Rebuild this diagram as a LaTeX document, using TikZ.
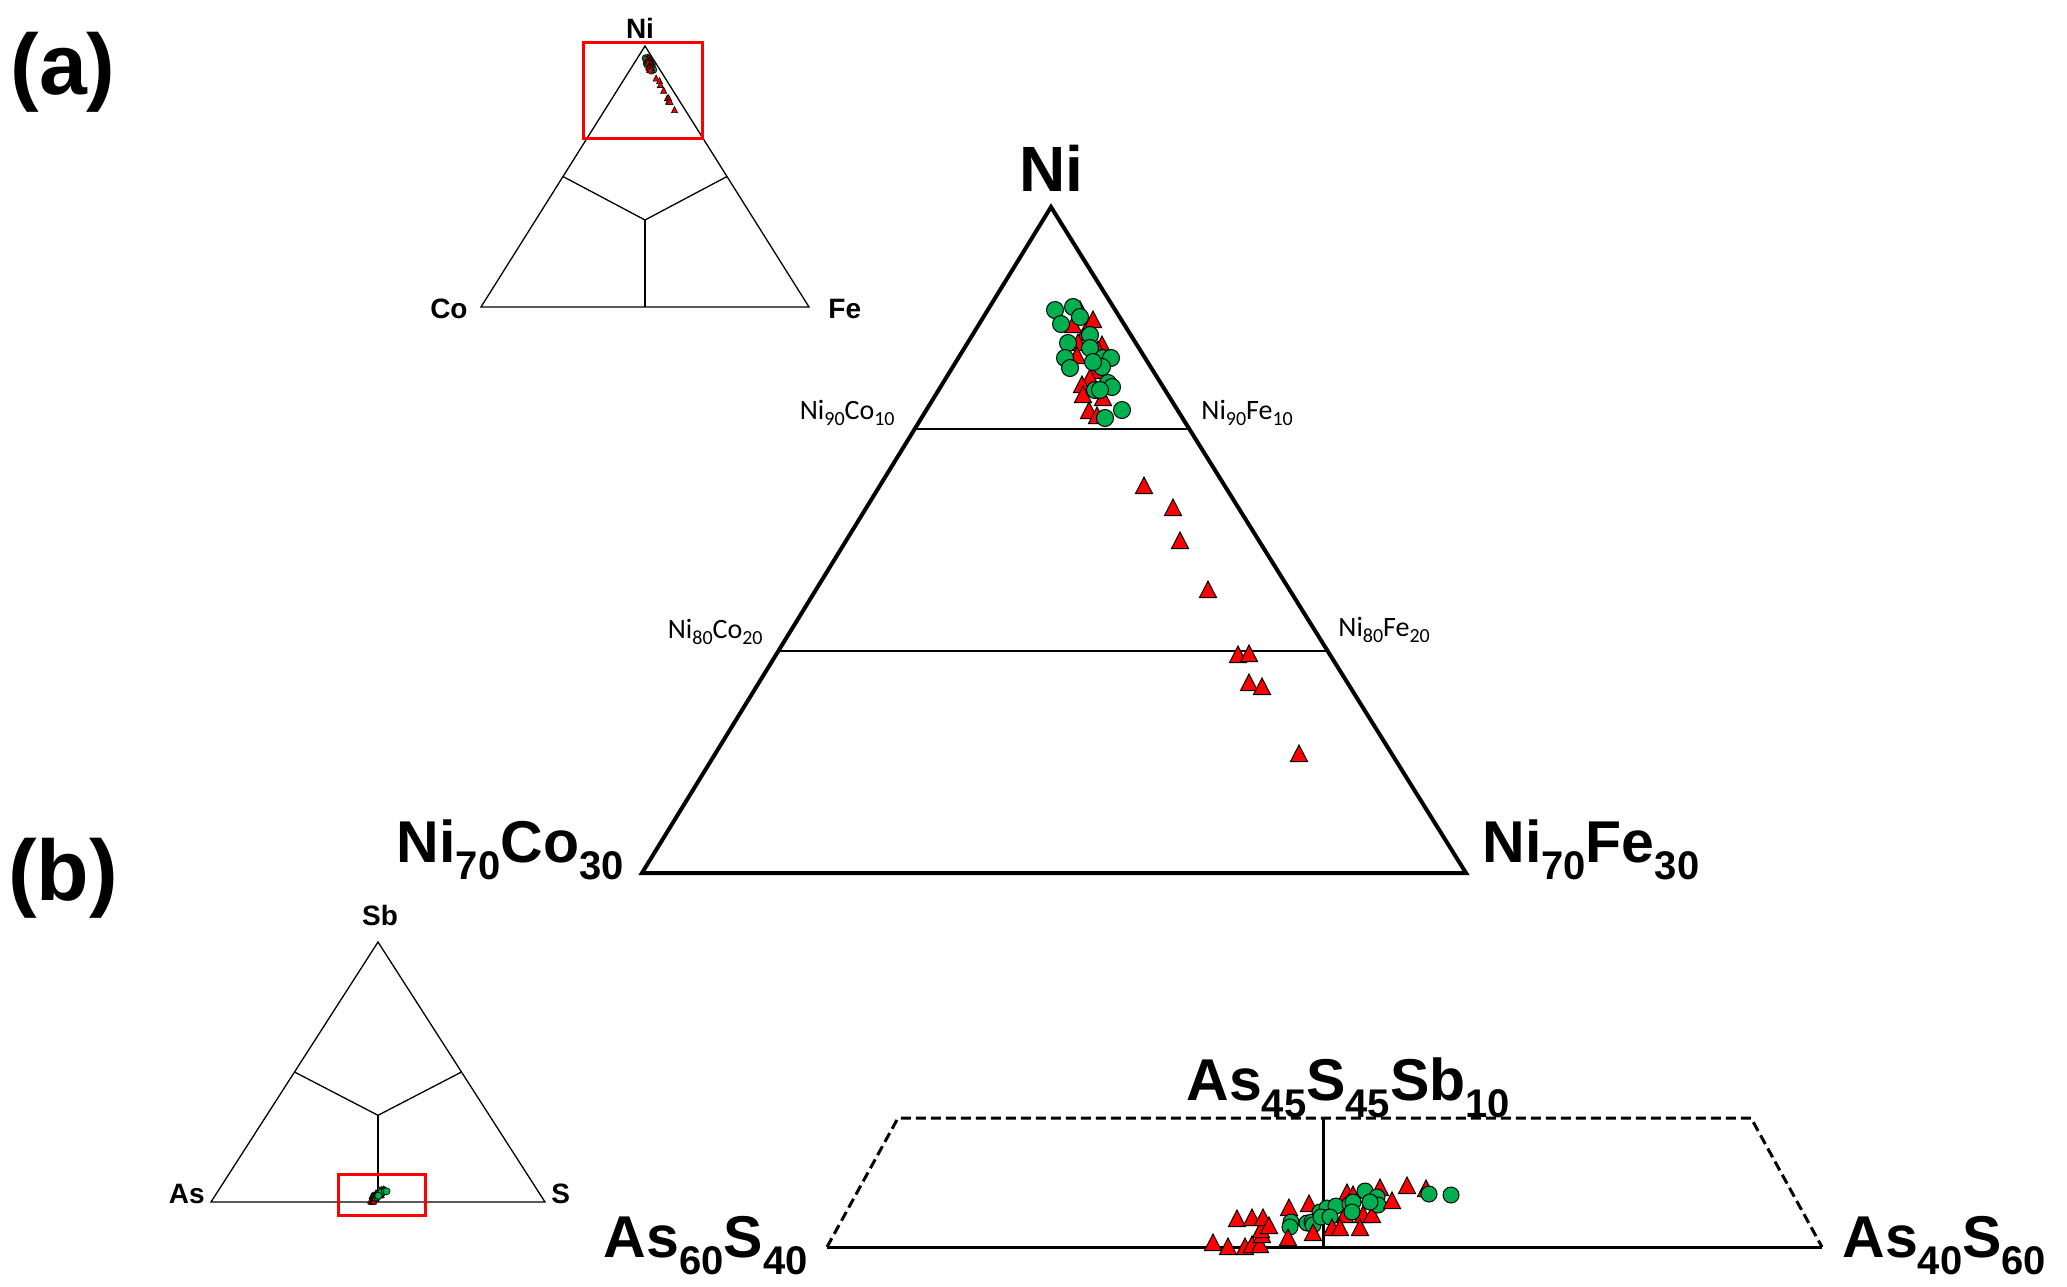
\documentclass[tikz,border=0pt]{standalone}
\usepackage{fontspec}
\setmainfont{Liberation Sans}
\newfontfamily\calib{Carlito}
\usetikzlibrary{calc}
\definecolor{mkgreen}{RGB}{0,176,80}
\definecolor{mkred}{RGB}{255,0,0}
\newcommand{\bsub}[1]{\raisebox{-8.5pt}{\fontsize{20}{20}\selectfont\bfseries #1}}
\newcommand{\csub}[1]{\raisebox{-3.3pt}{\fontsize{10}{10}\selectfont #1}}
\def\atri{1080/312,1093/322,1073/327,1085/335,1078/345,1102/347,1098/352,1077/358,1095/373,1090/380,1082/387,1083/397,1103/400,1089/413,1097/418,1144/488,1173/510,1180/543,1208/592,1238/657,1249/656,1249/685,1262/689,1299/756}
\def\acirc{1055/310,1073/307,1080/317,1061/324,1068/343,1090/335,1090/348,1065/358,1070/368,1103/358,1111/358,1102/367,1093/362,1108/383,1112/387,1095/390,1100/390,1122/410,1105/418}
\def\btriback{1213/1245,1228/1249,1245/1249,1252/1247,1260/1247,1262/1237,1261/1232,1237/1221,1252/1220,1263/1220,1269/1228,1289/1210,1309/1206,1347/1195,1353/1197,1345/1217,1363/1217,1372/1217,1380/1190,1407/1188,1426/1191}
\def\bcirc{1291/1222,1290/1227,1307/1223,1312/1222,1313/1225,1320/1212,1327/1208,1336/1206,1350/1204,1353/1202,1352/1212,1365/1191,1377/1197,1378/1205,1370/1202,1321/1217,1330/1217,1429/1194,1451/1195}
\def\btrifront{1288/1240,1313/1235,1332/1230,1340/1230,1360/1230,1392/1203}
\begin{document}
\begin{tikzpicture}[x=0.5pt,y=-0.5pt,
  bigl/.style={font=\fontsize{32}{32}\selectfont\bfseries, inner sep=0},
  cornl/.style={font=\fontsize{29.5}{30}\selectfont\bfseries, inner sep=0},
  smalll/.style={font=\fontsize{14}{14}\selectfont\bfseries, inner sep=0},
  ratiol/.style={font=\calib\fontsize{14}{14}\selectfont, inner sep=0},
  panell/.style={font=\fontsize{43}{43}\selectfont\bfseries, inner sep=0},
  thinframe/.style={line width=0.65pt, draw=black},
  redmk/.style={fill=mkred, draw=black, line width=0.5pt},
  greenmk/.style={fill=mkgreen, draw=black, line width=0.5pt},
  redsm/.style={fill=mkred, draw=black, line width=0.3pt},
  greensm/.style={fill=mkgreen, draw=black, line width=0.3pt},
  zoombox/.style={draw=mkred, line width=1.5pt},
  dashframe/.style={line width=1.5pt, dash pattern=on 5pt off 2.5pt}]
\useasboundingbox[fill=white] (0,0) rectangle (2067,1286);

% panel labels
\node[panell] (pa) at (63,72) {(a)};
\node[panell] (pb) at (63,878) {(b)};

% ---------- small triangle (a)
\coordinate (sN) at (645,46);
\coordinate (sC) at (481,307);
\coordinate (sF) at (809,307);
\coordinate (sO) at (645,220);
\draw[thinframe] (sN) -- (sC) -- (sF) -- cycle;
\draw[thinframe] ($(sN)!0.5!(sC)$) -- (sO) -- ($(sN)!0.5!(sF)$);
\draw[thinframe] (sO) -- ($(sC)!0.5!(sF)$);
\node[smalll, anchor=base] (lsN) at (640,38) {Ni};
\node[smalll, anchor=base east] (lsC) at (468,318) {Co};
\node[smalll, anchor=base west] (lsF) at (828,318) {Fe};

% ---------- main triangle (a)
\coordinate (aN) at (1051,207);
\coordinate (aC) at (642,873);
\coordinate (aF) at (1466,873);
\draw[line width=1pt] ($(aN)!1/3!(aC)$) -- ($(aN)!1/3!(aF)$);
\draw[line width=1pt] ($(aN)!2/3!(aC)$) -- ($(aN)!2/3!(aF)$);
\draw[line width=2pt, line join=miter] (aN) -- (aC) -- (aF) -- cycle;
\node[bigl, anchor=base] (laN) at (1051,191) {Ni};
\node[cornl, anchor=base east] (laC) at (624,862) {Ni\bsub{70}Co\bsub{30}};
\node[cornl, anchor=base west] (laF) at (1482,862) {Ni\bsub{70}Fe\bsub{30}};
\node[ratiol, anchor=base east] (r1) at (895,419) {Ni\csub{90}Co\csub{10}};
\node[ratiol, anchor=base west] (r2) at (1201,419) {Ni\csub{90}Fe\csub{10}};
\node[ratiol, anchor=base east] (r3) at (763,638) {Ni\csub{80}Co\csub{20}};
\node[ratiol, anchor=base west] (r4) at (1338,636) {Ni\csub{80}Fe\csub{20}};

% data (a) main
\foreach \x/\y in \atri {
  \filldraw[redmk] (\x,\y) ++(-8.5,5.5) -- ++(8.5,-16.5) -- ++(8.5,16.5) -- cycle;
}
\foreach \x/\y in \acirc {
  \filldraw[greenmk] (\x,\y) circle (4.25pt);
}
% data (a) small
\foreach \x/\y in \acirc {
  \pgfmathsetmacro\sx{645+(\x-1051)*0.119}
  \pgfmathsetmacro\sy{46+(\y-207)*0.1176}
  \filldraw[greensm] (\sx,\sy) circle (1.7pt);
}
\foreach \x/\y in \atri {
  \pgfmathsetmacro\sx{645+(\x-1051)*0.119}
  \pgfmathsetmacro\sy{46+(\y-207)*0.1176}
  \filldraw[redsm] (\sx,\sy) ++(-3,2) -- ++(3,-6) -- ++(3,6) -- cycle;
}
\draw[zoombox] (583,42) rectangle (702,138);

% ---------- small triangle (b)
\coordinate (tSb) at (378,942);
\coordinate (tAs) at (211,1202);
\coordinate (tS) at (545,1202);
\coordinate (tO) at (378,1115.3);
\draw[thinframe] (tSb) -- (tAs) -- (tS) -- cycle;
\draw[thinframe] ($(tSb)!0.5!(tAs)$) -- (tO) -- ($(tSb)!0.5!(tS)$);
\draw[thinframe] (tO) -- ($(tAs)!0.5!(tS)$);
\node[smalll, anchor=base] (lSb) at (380,925) {Sb};
\node[smalll, anchor=base east] (lAs) at (205,1203) {As};
\node[smalll, anchor=base west] (lS) at (551,1203) {S};
\foreach \x/\y in \btriback {
  \pgfmathsetmacro\sx{378+(\x-1324.5)*0.0671}
  \pgfmathsetmacro\sy{1202+(\y-1248)*0.2016}
  \filldraw[redsm] (\sx,\sy) ++(-3,2) -- ++(3,-6) -- ++(3,6) -- cycle;
}
\foreach \x/\y in \bcirc {
  \pgfmathsetmacro\sx{378+(\x-1324.5)*0.0671}
  \pgfmathsetmacro\sy{1202+(\y-1248)*0.2016}
  \filldraw[greensm] (\sx,\sy) circle (1.8pt);
}
\draw[zoombox] (338,1174) rectangle (425,1215);

% ---------- main trapezoid (b)
\coordinate (bL) at (827,1247);
\coordinate (bR) at (1822,1247);
\coordinate (bTL) at (898,1118);
\coordinate (bTR) at (1751,1118);
\coordinate (bTop) at (1323,1118);
\coordinate (bBot) at (1323,1247);
\draw[dashframe] (bL) -- (bTL) -- (bTR) -- (bR);
\draw[line width=1.5pt] (bL) -- (bR);
\draw[line width=1.5pt] (bTop) -- (bBot);
\node[cornl, anchor=base west] (lTop) at (1186,1100) {As\bsub{45}S\bsub{45}Sb\bsub{10}};
\node[cornl, anchor=base east] (lL) at (808,1257) {As\bsub{60}S\bsub{40}};
\node[cornl, anchor=base west] (lR) at (1842,1257) {As\bsub{40}S\bsub{60}};

% data (b) main
\foreach \x/\y in \btriback {
  \filldraw[redmk] (\x,\y) ++(-8.5,5.5) -- ++(8.5,-16.5) -- ++(8.5,16.5) -- cycle;
}
\foreach \x/\y in \bcirc {
  \filldraw[greenmk] (\x,\y) circle (4pt);
}
\foreach \x/\y in \btrifront {
  \filldraw[redmk] (\x,\y) ++(-8.5,5.5) -- ++(8.5,-16.5) -- ++(8.5,16.5) -- cycle;
}
\end{tikzpicture}
\end{document}
